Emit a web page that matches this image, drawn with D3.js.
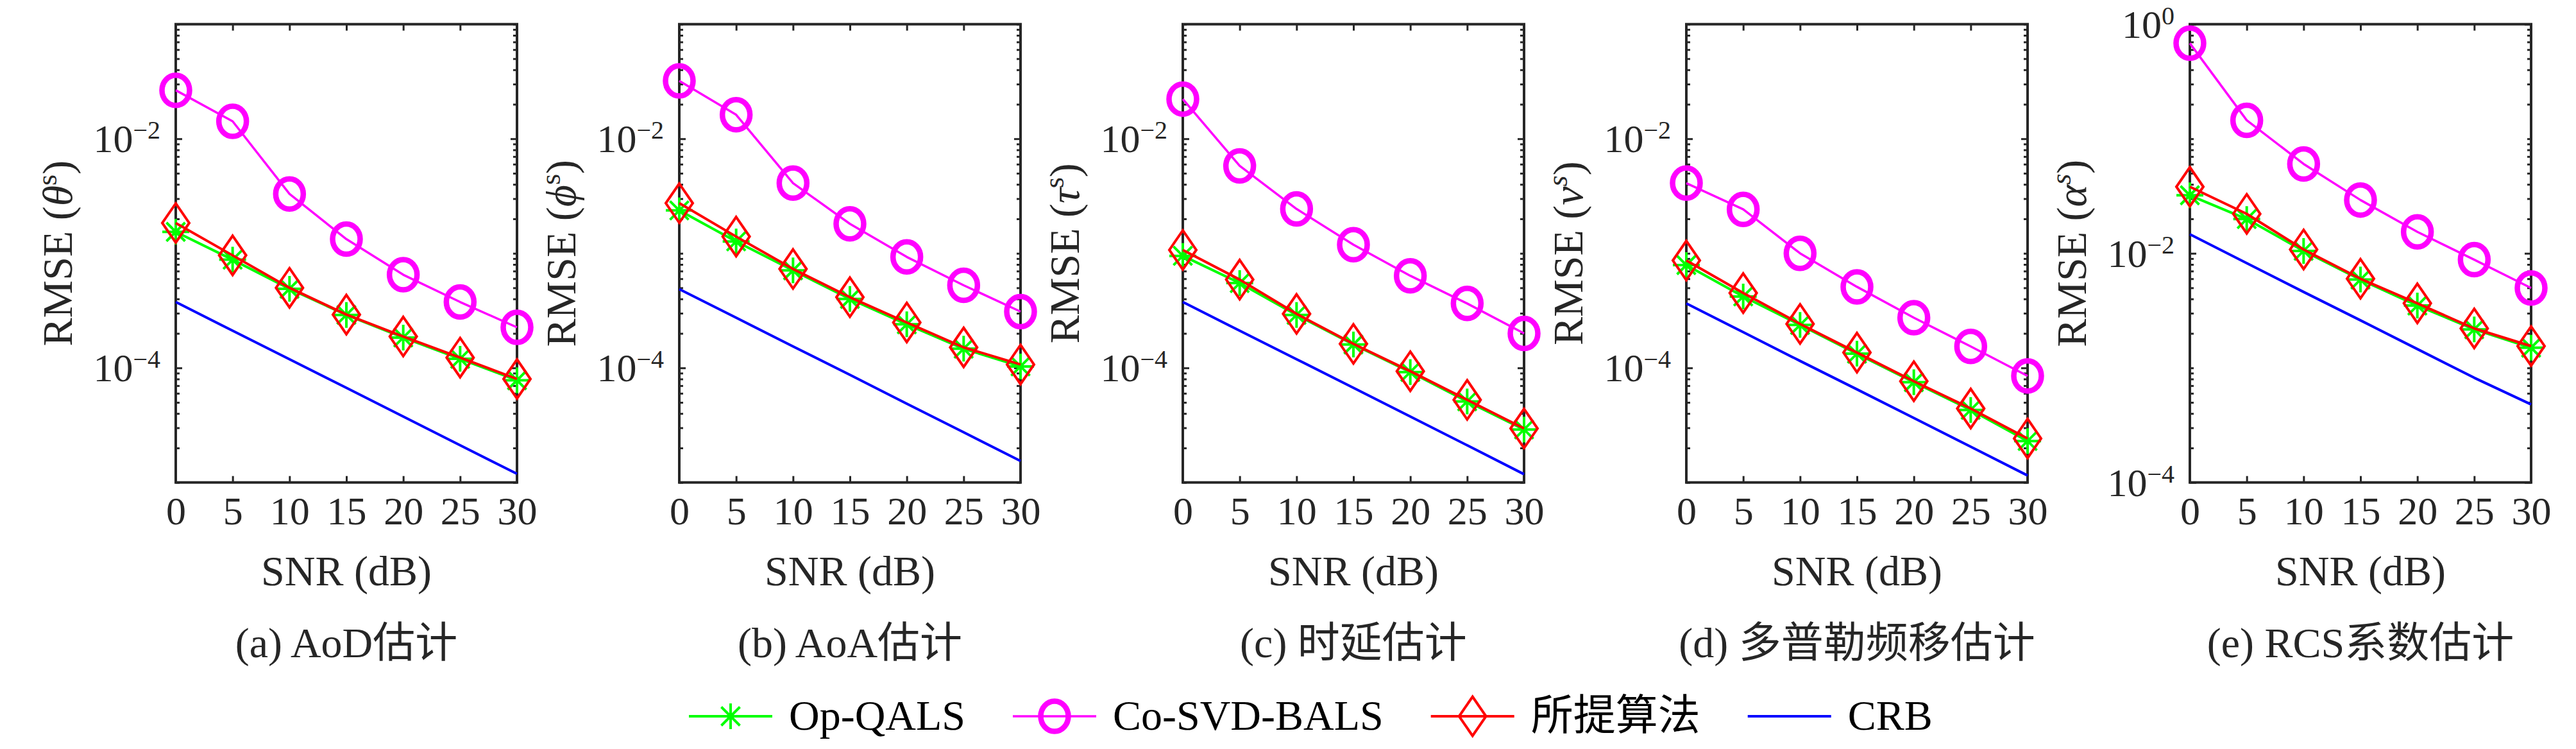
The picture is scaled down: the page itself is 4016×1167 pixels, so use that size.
<!DOCTYPE html>
<html>
<head>
<meta charset="utf-8">
<script src="https://cdn.jsdelivr.net/npm/d3@7"></script>
<style>
  html, body { margin: 0; padding: 0; background: #fff; }
  svg { display: block; }
</style>
</head>
<body>
<svg id="chart" width="4016" height="1167"></svg>
<script>
// ---------------- DATA ----------------
const snr = [0, 5, 10, 15, 20, 25, 30];
const xTickLabels = ["0", "5", "10", "15", "20", "25", "30"];
const seriesNames = ["Op-QALS", "Co-SVD-BALS", "所提算法", "CRB"];
const captions = ["(a) AoD估计", "(b) AoA估计", "(c) 时延估计", "(d) 多普勒频移估计", "(e) RCS系数估计"];
const ySymbols = ["θ", "ϕ", "τ", "ν", "α"];

// (a) AoD
const aodOpQALS   = [1.54e-3, 8.8e-4, 4.9e-4, 2.9e-4, 1.84e-4, 1.2e-4, 7.8e-5];
const aodCoSVD    = [2.65e-2, 1.42e-2, 3.3e-3, 1.33e-3, 6.5e-4, 3.76e-4, 2.26e-4];
const aodProposed = [1.84e-3, 9.6e-4, 5.0e-4, 2.92e-4, 1.88e-4, 1.23e-4, 8.0e-5];
const aodCRB      = [3.76e-4, 2.11e-4, 1.19e-4, 6.7e-5, 3.76e-5, 2.11e-5, 1.19e-5];
// (b) AoA
const aoaOpQALS   = [2.37e-3, 1.27e-3, 7.1e-4, 4.0e-4, 2.4e-4, 1.47e-4, 1.03e-4];
const aoaCoSVD    = [3.2e-2, 1.62e-2, 4.1e-3, 1.81e-3, 9.3e-4, 5.26e-4, 3.1e-4];
const aoaProposed = [2.74e-3, 1.4e-3, 7.3e-4, 4.14e-4, 2.49e-4, 1.51e-4, 1.07e-4];
const aoaCRB      = [4.87e-4, 2.74e-4, 1.54e-4, 8.7e-5, 4.87e-5, 2.74e-5, 1.54e-5];
// (c) delay
const delayOpQALS   = [9.5e-4, 5.5e-4, 2.9e-4, 1.6e-4, 9.2e-5, 5.1e-5, 2.9e-5];
const delayCoSVD    = [2.22e-2, 5.8e-3, 2.44e-3, 1.19e-3, 6.37e-4, 3.65e-4, 2.0e-4];
const delayProposed = [1.07e-3, 5.9e-4, 2.96e-4, 1.62e-4, 9.35e-5, 5.26e-5, 2.96e-5];
const delayCRB      = [3.76e-4, 2.11e-4, 1.19e-4, 6.7e-5, 3.76e-5, 2.11e-5, 1.18e-5];
// (d) Doppler
const dopOpQALS   = [7.9e-4, 4.2e-4, 2.37e-4, 1.33e-4, 7.5e-5, 4.3e-5, 2.3e-5];
const dopCoSVD    = [4.1e-3, 2.42e-3, 1.0e-3, 5.1e-4, 2.74e-4, 1.54e-4, 8.5e-5];
const dopProposed = [8.66e-4, 4.5e-4, 2.42e-4, 1.36e-4, 7.65e-5, 4.42e-5, 2.42e-5];
const dopCRB      = [3.65e-4, 2.05e-4, 1.15e-4, 6.5e-5, 3.65e-5, 2.05e-5, 1.15e-5];
// (e) RCS
const rcsOpQALS   = [3.21e-2, 1.99e-2, 1.05e-2, 5.9e-3, 3.5e-3, 2.17e-3, 1.5e-3];
const rcsCoSVD    = [0.682, 0.145, 6.03e-2, 2.92e-2, 1.54e-2, 8.8e-3, 4.98e-3];
const rcsProposed = [3.81e-2, 2.21e-2, 1.08e-2, 6.0e-3, 3.66e-3, 2.21e-3, 1.55e-3];
const rcsCRB      = [1.466e-2, 8.2e-3, 4.6e-3, 2.6e-3, 1.46e-3, 8.2e-4, 4.8e-4];

const yDomains = [[1e-5, 1e-1], [1e-5, 1e-1], [1e-5, 1e-1], [1e-5, 1e-1], [1e-4, 1e0]];
const yLabelExps = [[-2, -4], [-2, -4], [-2, -4], [-2, -4], [0, -2, -4]];

const panelData = [
  [aodOpQALS, aodCoSVD, aodProposed, aodCRB],
  [aoaOpQALS, aoaCoSVD, aoaProposed, aoaCRB],
  [delayOpQALS, delayCoSVD, delayProposed, delayCRB],
  [dopOpQALS, dopCoSVD, dopProposed, dopCRB],
  [rcsOpQALS, rcsCoSVD, rcsProposed, rcsCRB]
];

// ---------------- STYLE ----------------
const AX = "#262626";
const FONT = "'Liberation Serif', 'Noto Sans CJK SC', serif";
const colors = ["#00ff00", "#ff00ff", "#ff0000", "#0000ff"];
const lineW = [4, 3.5, 4, 4];

const W = 4016, H = 1167;
const panelLeft0 = 274, panelPitch = 785, panelW = 532;
const plotTop = 37.7, plotBottom = 751.7;

const svg = d3.select("#chart");
svg.append("rect").attr("width", W).attr("height", H).attr("fill", "#fff");

function drawMarker(g, kind, cx, cy, color) {
  if (kind === 0) { // asterisk
    g.append("path")
      .attr("d", "M-21,0H21M0,-20V20M-14.5,-14.5L14.5,14.5M-14.5,14.5L14.5,-14.5")
      .attr("transform", `translate(${cx},${cy})`)
      .attr("fill", "none").attr("stroke", color).attr("stroke-width", 4);
  } else if (kind === 1) { // circle
    g.append("ellipse").attr("cx", cx).attr("cy", cy).attr("rx", 21.5).attr("ry", 23.5)
      .attr("fill", "none").attr("stroke", color).attr("stroke-width", 8.5);
  } else if (kind === 2) { // diamond
    g.append("path").attr("d", "M0,-30.5L21,0L0,30.5L-21,0Z")
      .attr("transform", `translate(${cx},${cy})`)
      .attr("fill", "none").attr("stroke", color).attr("stroke-width", 4)
      .attr("stroke-linejoin", "miter");
  }
}

panelData.forEach((series, pi) => {
  const left = panelLeft0 + pi * panelPitch;
  const right = left + panelW;
  const x = d3.scaleLinear().domain([0, 30]).range([left, right]);
  const y = d3.scaleLog().domain(yDomains[pi]).range([plotBottom, plotTop]);
  const g = svg.append("g");

  // minor & major y ticks
  const [lo, hi] = yDomains[pi];
  const minors = [];
  for (let e = Math.round(Math.log10(lo)); e < Math.round(Math.log10(hi)); e++) {
    for (let m = 2; m <= 9; m++) minors.push(m * Math.pow(10, e));
  }
  const majors = yLabelExps[pi].map(e => Math.pow(10, e));
  const oddDecades = [];
  for (let e = Math.round(Math.log10(lo)); e <= Math.round(Math.log10(hi)); e++) {
    if (!yLabelExps[pi].includes(e)) oddDecades.push(Math.pow(10, e));
  }

  const addAxis = (axisGen, tx, ty) => {
    const a = g.append("g").attr("transform", `translate(${tx},${ty})`).call(axisGen);
    a.select(".domain").remove();
    a.selectAll("line").attr("stroke", AX).attr("stroke-width", 3);
    return a;
  };
  // left / right axes
  addAxis(d3.axisLeft(y).tickValues(minors.concat(oddDecades)).tickSize(-6).tickFormat(""), left, 0);
  addAxis(d3.axisLeft(y).tickValues(majors).tickSize(-10).tickFormat(""), left, 0);
  addAxis(d3.axisRight(y).tickValues(minors.concat(oddDecades)).tickSize(-6).tickFormat(""), right, 0);
  addAxis(d3.axisRight(y).tickValues(majors).tickSize(-10).tickFormat(""), right, 0);
  // top / bottom axes
  addAxis(d3.axisTop(x).tickValues(snr).tickSize(-10).tickFormat(""), 0, plotTop);
  const bx = addAxis(d3.axisBottom(x).tickValues(snr).tickSize(-10).tickPadding(0)
      .tickFormat((d, i) => xTickLabels[i]), 0, plotBottom);
  bx.selectAll("text")
    .attr("y", 817 - plotBottom).attr("dy", null)
    .attr("font-family", FONT).attr("font-size", 62).attr("fill", AX);

  // y tick labels 10^k
  majors.forEach((v, k) => {
    const t = g.append("text")
      .attr("x", left - 24).attr("y", y(v) + 21)
      .attr("text-anchor", "end")
      .attr("font-family", FONT).attr("font-size", 62).attr("fill", AX);
    t.append("tspan").text("10");
    const ex = yLabelExps[pi][k];
    t.append("tspan").attr("dy", -21).attr("font-size", 40)
      .text(ex < 0 ? "\u2212" + Math.abs(ex) : String(ex));
  });

  // box
  g.append("rect").attr("x", left).attr("y", plotTop)
    .attr("width", panelW).attr("height", plotBottom - plotTop)
    .attr("fill", "none").attr("stroke", AX).attr("stroke-width", 4);

  // series
  const clipId = "clip" + pi;
  svg.append("clipPath").attr("id", clipId).append("rect")
    .attr("x", left - 40).attr("y", plotTop - 40).attr("width", panelW + 80).attr("height", plotBottom - plotTop + 80);
  const line = d3.line().x((d, i) => x(snr[i])).y(d => y(d));
  series.forEach((vals, si) => {
    const sg = g.append("g").attr("clip-path", `url(#${clipId})`);
    sg.append("path").datum(vals).attr("d", line)
      .attr("fill", "none").attr("stroke", colors[si]).attr("stroke-width", lineW[si])
      .attr("stroke-linejoin", "round");
    if (si < 3) vals.forEach((v, i) => drawMarker(sg, si, x(snr[i]), y(v), colors[si]));
  });

  // x label
  g.append("text").attr("x", (left + right) / 2).attr("y", 912)
    .attr("text-anchor", "middle").attr("font-family", FONT).attr("font-size", 66).attr("fill", AX)
    .text("SNR (dB)");

  // caption
  g.append("text").attr("x", (left + right) / 2).attr("y", 1024)
    .attr("text-anchor", "middle").attr("font-family", FONT).attr("font-size", 66).attr("fill", AX)
    .text(captions[pi]);

  // y label
  const yl = g.append("text")
    .attr("transform", `translate(${left - 162},${(plotTop + plotBottom) / 2}) rotate(-90)`)
    .attr("text-anchor", "middle").attr("font-family", FONT).attr("font-size", 66).attr("fill", AX);
  yl.append("tspan").text("RMSE (");
  yl.append("tspan").attr("font-style", "italic").text(ySymbols[pi]);
  yl.append("tspan").attr("dy", -24).attr("font-size", 44).attr("font-style", pi >= 3 ? "italic" : "normal").text("s");
  yl.append("tspan").attr("dy", 24).text(")");
});

// ---------------- LEGEND ----------------
const legY = 1116;
let lx = 1074;
const lg = svg.append("g");
seriesNames.forEach((name, si) => {
  lg.append("line").attr("x1", lx).attr("x2", lx + 130).attr("y1", legY).attr("y2", legY)
    .attr("stroke", colors[si]).attr("stroke-width", lineW[si]);
  if (si < 3) drawMarker(lg, si, lx + 65, legY, colors[si]);
  const t = lg.append("text").attr("x", lx + 156).attr("y", legY + 21)
    .attr("font-family", FONT).attr("font-size", 66).attr("fill", "#000").text(name);
  const w = t.node().getComputedTextLength();
  lx = lx + 156 + w + 74;
});
</script>
</body>
</html>
